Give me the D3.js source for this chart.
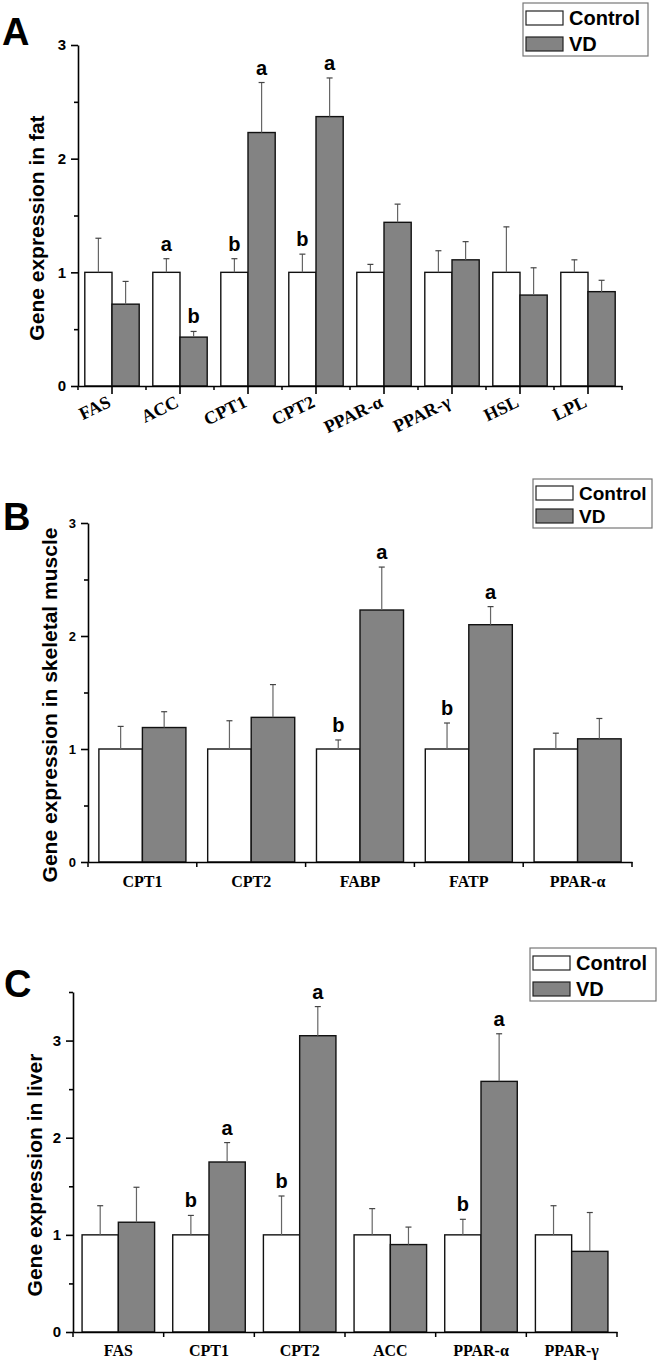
<!DOCTYPE html>
<html>
<head>
<meta charset="utf-8">
<script src="https://cdn.jsdelivr.net/npm/d3@7"></script>
<style>
  body { margin: 0; background: #fff; }
  svg { display: block; }
</style>
</head>
<body>
<div class="canvas"></div>
<script>
// Data: means and upper SD for each group

const groups = ["Control", "VD"];

// A - fat
const fatGenes = ["FAS", "ACC", "CPT1", "CPT2", "PPAR-α", "PPAR-γ", "HSL", "LPL"];
const fatControl = [1, 1, 1, 1, 1, 1, 1, 1];
const fatControlSd = [0.30, 0.12, 0.12, 0.16, 0.07, 0.19, 0.40, 0.11];
const fatVd = [0.72, 0.43, 2.23, 2.37, 1.44, 1.11, 0.80, 0.83];
const fatVdSd = [0.20, 0.05, 0.44, 0.34, 0.16, 0.16, 0.24, 0.10];
const fatControlSig = ["", "a", "b", "b", "", "", "", ""];
const fatVdSig = ["", "b", "a", "a", "", "", "", ""];

// B - skeletal muscle
const muscleGenes = ["CPT1", "CPT2", "FABP", "FATP", "PPAR-α"];
const muscleControl = [1, 1, 1, 1, 1];
const muscleControlSd = [0.20, 0.25, 0.08, 0.23, 0.14];
const muscleVd = [1.19, 1.28, 2.23, 2.10, 1.09];
const muscleVdSd = [0.14, 0.29, 0.38, 0.16, 0.18];
const muscleControlSig = ["", "", "b", "b", ""];
const muscleVdSig = ["", "", "a", "a", ""];

// C - liver
const liverGenes = ["FAS", "CPT1", "CPT2", "ACC", "PPAR-α", "PPAR-γ"];
const liverControl = [1, 1, 1, 1, 1, 1];
const liverControlSd = [0.30, 0.20, 0.40, 0.27, 0.16, 0.30];
const liverVd = [1.13, 1.75, 3.05, 0.90, 2.58, 0.83];
const liverVdSd = [0.36, 0.20, 0.30, 0.18, 0.49, 0.40];
const liverControlSig = ["", "b", "b", "", "b", ""];
const liverVdSig = ["", "a", "a", "", "a", ""];

const yTicks = [0, 1, 2, 3];

const sans = "'Liberation Sans', Arial, sans-serif";
const serif = "'Liberation Serif', 'Times New Roman', serif";
const fills = { Control: "#ffffff", VD: "#838383" };

const svg = d3.select(".canvas")
    .append("svg")
    .attr("width", 661)
    .attr("height", 1365);

function drawPanel(p) {
    const g = svg.append("g");

    const x = d3.scaleBand()
        .domain(p.genes)
        .range([p.left, p.right])
        .paddingInner(0.2)
        .paddingOuter(0.1);

    const xg = d3.scaleBand()
        .domain(groups)
        .range([0, x.bandwidth()]);

    const y = d3.scaleLinear()
        .domain([0, p.yMax])
        .range([p.bottom, p.top]);

    const rows = [];
    p.genes.forEach((gene, i) => {
        rows.push({ gene, group: "Control", mean: p.control[i], sd: p.controlSd[i], sig: p.controlSig[i] });
        rows.push({ gene, group: "VD", mean: p.vd[i], sd: p.vdSd[i], sig: p.vdSig[i] });
    });
    const cx = d => x(d.gene) + xg(d.group) + xg.bandwidth() / 2;

    // bars
    g.selectAll("rect.bar")
        .data(rows)
        .join("rect")
        .attr("class", "bar")
        .attr("x", d => x(d.gene) + xg(d.group))
        .attr("y", d => y(d.mean))
        .attr("width", xg.bandwidth())
        .attr("height", d => y(0) - y(d.mean))
        .attr("fill", d => fills[d.group])
        .attr("stroke", "#111")
        .attr("stroke-width", 1.4);

    // error bars (upper only)
    g.selectAll("line.err")
        .data(rows)
        .join("line")
        .attr("class", "err")
        .attr("x1", cx).attr("x2", cx)
        .attr("y1", d => y(d.mean))
        .attr("y2", d => y(d.mean + d.sd))
        .attr("stroke", "#666")
        .attr("stroke-width", 1.2);

    g.selectAll("line.cap")
        .data(rows)
        .join("line")
        .attr("class", "cap")
        .attr("x1", d => cx(d) - 3).attr("x2", d => cx(d) + 3)
        .attr("y1", d => y(d.mean + d.sd))
        .attr("y2", d => y(d.mean + d.sd))
        .attr("stroke", "#444")
        .attr("stroke-width", 1.2);

    // significance letters
    g.selectAll("text.sig")
        .data(rows.filter(d => d.sig))
        .join("text")
        .attr("class", "sig")
        .attr("x", cx)
        .attr("y", d => y(d.mean + d.sd) - 8)
        .attr("text-anchor", "middle")
        .style("font-family", sans)
        .style("font-weight", "bold")
        .style("font-size", "20px")
        .text(d => d.sig);

    // y axis: major + minor ticks
    const yAxis = g.append("g")
        .attr("transform", `translate(${p.left},0)`)
        .call(d3.axisLeft(y)
            .tickValues(yTicks)
            .tickFormat(d3.format("d"))
            .tickSize(7)
            .tickSizeOuter(0)
            .tickPadding(5));
    yAxis.selectAll(".tick text")
        .style("font-family", sans)
        .style("font-weight", "bold")
        .style("font-size", p.tickFont + "px")
        .attr("fill", "#000");

    g.append("g")
        .attr("transform", `translate(${p.left},0)`)
        .call(d3.axisLeft(y)
            .tickValues(d3.range(0.5, p.yMax + 0.01, 1))
            .tickFormat("")
            .tickSize(4))
        .call(a => a.select(".domain").remove());

    // x axis
    g.append("g")
        .attr("transform", `translate(0,${y(0)})`)
        .call(d3.axisBottom(x)
            .tickSize(p.rotate ? 8 : 0)
            .tickSizeOuter(0)
            .tickFormat(""));

    const bounds = p.genes.map(d => x(d) - x.step() * 0.1).concat([p.right]);
    g.selectAll("line.bound")
        .data(bounds)
        .join("line")
        .attr("class", "bound")
        .attr("x1", d => d).attr("x2", d => d)
        .attr("y1", y(0)).attr("y2", y(0) + (p.rotate ? 4 : 5))
        .attr("stroke", "#000")
        .attr("stroke-width", 1.5);

    g.selectAll("path.domain, .tick line")
        .attr("stroke", "#000")
        .attr("stroke-width", 1.6);

    // category labels
    g.selectAll("text.cat")
        .data(p.genes)
        .join("text")
        .attr("class", "cat")
        .attr("transform", d => {
            const tx = x(d) + x.bandwidth() / 2;
            return p.rotate
                ? `translate(${tx},${y(0) + 20}) rotate(-26)`
                : `translate(${tx},${y(0) + p.labelDy})`;
        })
        .attr("text-anchor", p.rotate ? "end" : "middle")
        .style("font-family", serif)
        .style("font-weight", "bold")
        .style("font-size", p.catFont + "px")
        .text(d => d);

    // y title
    g.append("text")
        .attr("transform", `translate(${p.titleX},${p.titleY}) rotate(-90)`)
        .attr("text-anchor", "middle")
        .style("font-family", sans)
        .style("font-weight", "bold")
        .style("font-size", "21px")
        .text(p.title);

    // panel letter
    g.append("text")
        .attr("x", p.letterX)
        .attr("y", p.letterY)
        .style("font-family", sans)
        .style("font-weight", "bold")
        .style("font-size", "38px")
        .text(p.letter);

    // legend
    const lg = g.append("g").attr("transform", `translate(${p.legX},${p.legY})`);
    lg.append("rect")
        .attr("width", p.legW).attr("height", p.legH)
        .attr("fill", "#fff")
        .attr("stroke", "#777")
        .attr("stroke-width", 1.2);
    groups.forEach((name, i) => {
        const top = p.legRow0 + i * p.legStep;
        lg.append("rect")
            .attr("x", 3).attr("y", top)
            .attr("width", 37).attr("height", 14)
            .attr("fill", fills[name])
            .attr("stroke", "#222")
            .attr("stroke-width", 1.2);
        lg.append("text")
            .attr("x", 46).attr("y", top + 14)
            .style("font-family", sans)
            .style("font-weight", "bold")
            .style("font-size", p.legFont + "px")
            .text(name);
    });
}

drawPanel({
    genes: fatGenes, control: fatControl, controlSd: fatControlSd, vd: fatVd, vdSd: fatVdSd,
    controlSig: fatControlSig, vdSig: fatVdSig,
    left: 78, right: 622, top: 45, bottom: 386, yMax: 3, tickFont: 15, rotate: true, catFont: 18,
    title: "Gene expression in fat", titleX: 44, titleY: 228,
    letter: "A", letterX: 2, letterY: 45,
    legX: 523, legY: 3, legW: 125, legH: 53, legRow0: 8, legStep: 26, legFont: 20
});

drawPanel({
    genes: muscleGenes, control: muscleControl, controlSd: muscleControlSd, vd: muscleVd, vdSd: muscleVdSd,
    controlSig: muscleControlSig, vdSig: muscleVdSig,
    left: 88, right: 632, top: 523, bottom: 862, yMax: 3, tickFont: 13, rotate: false, labelDy: 25, catFont: 16,
    title: "Gene expression in skeletal muscle", titleX: 57, titleY: 705,
    letter: "B", letterX: 3, letterY: 530,
    legX: 533, legY: 479, legW: 119, legH: 49, legRow0: 7, legStep: 23, legFont: 19
});

drawPanel({
    genes: liverGenes, control: liverControl, controlSd: liverControlSd, vd: liverVd, vdSd: liverVdSd,
    controlSig: liverControlSig, vdSig: liverVdSig,
    left: 73, right: 617, top: 992, bottom: 1332, yMax: 3.5, tickFont: 15, rotate: false, labelDy: 24, catFont: 16,
    title: "Gene expression in liver", titleX: 42, titleY: 1175,
    letter: "C", letterX: 4, letterY: 997,
    legX: 530, legY: 948, legW: 126, legH: 53, legRow0: 8, legStep: 26, legFont: 20
});
</script>
</body>
</html>
